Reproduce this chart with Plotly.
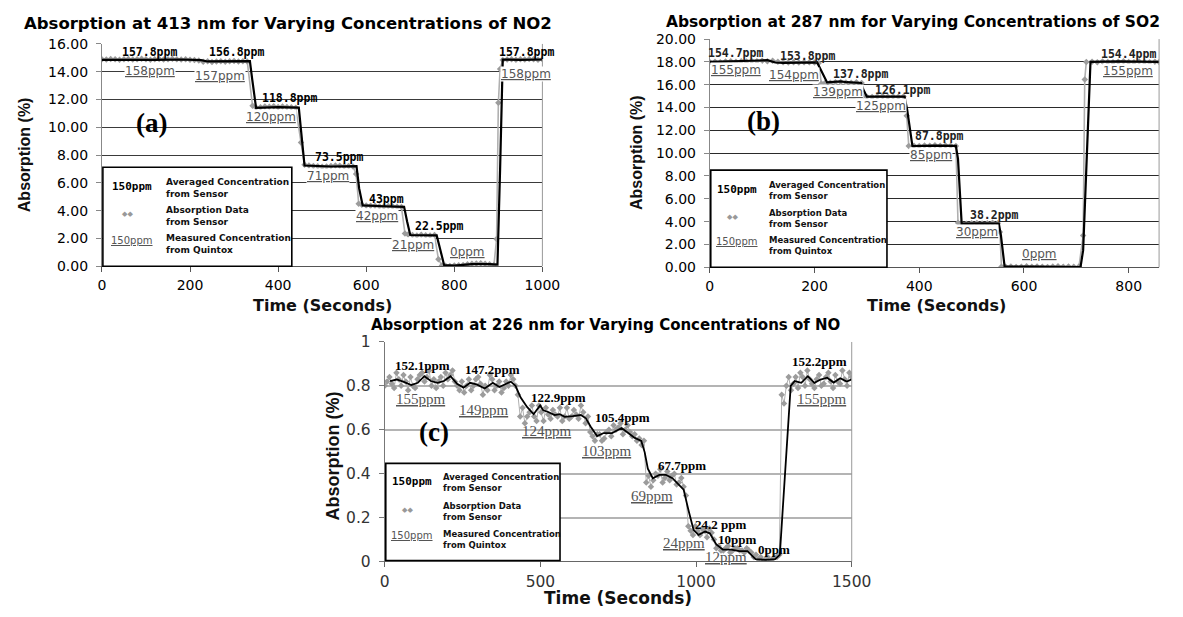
import plotly.graph_objects as go

# ---------------- DATA ----------------
# (a) NO2 at 413 nm : sensor absorption data (grey points)
a_t = [0, 10, 20, 30, 40, 50, 60, 70, 80, 90, 100, 110, 120, 130, 140, 150, 160, 170, 180, 190, 200, 210, 220,
       230, 240, 250, 260, 270, 280, 290, 300, 310, 320, 330,
       342, 350, 360, 370, 380, 390, 400, 410, 420, 430, 440,
       452, 460, 470, 480, 490, 500, 510, 520, 530, 540, 550, 560, 570,
       577, 583, 590, 600, 610, 620, 630, 640, 650, 660, 670, 680,
       688, 695, 705, 715, 725, 735, 745, 755,
       764, 772, 780, 790, 800, 810, 820, 830, 840, 850, 860, 870, 880, 890,
       896, 900, 904, 910, 920, 930, 940, 950, 960, 970, 980, 990, 1000]
a_v = [14.90, 14.88, 14.92, 14.90, 14.86, 14.90, 14.92, 14.88, 14.90, 14.93, 14.90, 14.87, 14.90, 14.92, 14.88,
       14.90, 14.93, 14.90, 14.88, 14.90, 14.86, 14.84, 14.80,
       14.72, 14.75, 14.70, 14.74, 14.76, 14.72, 14.75, 14.78, 14.74, 14.76, 14.73,
       11.55, 11.42, 11.45, 11.50, 11.48, 11.52, 11.47, 11.50, 11.46, 11.44, 11.40,
       8.90, 7.30, 7.26, 7.22, 7.20, 7.16, 7.18, 7.22, 7.25, 7.24, 7.20, 7.22, 7.18,
       6.64, 4.50, 4.42, 4.38, 4.35, 4.36, 4.32, 4.30, 4.33, 4.30, 4.28, 4.26,
       2.35, 2.28, 2.25, 2.22, 2.26, 2.24, 2.22, 2.25,
       0.50, 0.06, 0.04, 0.02, 0.05, 0.08, 0.10, 0.14, 0.18, 0.20, 0.22, 0.18, 0.15, 0.10,
       1.96, 11.76, 14.20, 14.85, 14.88, 14.90, 14.86, 14.90, 14.88, 14.92, 14.90, 14.87, 14.90]
# (a) averaged concentration line (black)
a_avg_t = [0, 60, 120, 180, 225, 240, 336, 341, 350, 400, 447, 452, 460, 520, 578, 584, 592, 640, 686, 693,
           700, 760, 767, 777, 800, 840, 880, 898, 904, 910, 950, 1000]
a_avg_v = [14.85, 14.88, 14.86, 14.88, 14.84, 14.74, 14.76, 13.5, 11.40, 11.46, 11.42, 9.8, 7.25, 7.18, 7.20,
           5.6, 4.38, 4.32, 4.28, 3.2, 2.25, 2.22, 1.3, 0.08, 0.04, 0.15, 0.15, 0.12, 7.0, 14.88, 14.86, 14.88]
a_avg_lbl = ["157.8ppm", "156.8ppm", "118.8ppm", "73.5ppm", "43ppm", "22.5ppm", "157.8ppm"]
a_avg_lt = [109, 306, 426, 539, 647, 766, 963]
a_avg_lv = [15.42, 15.42, 12.11, 7.87, 4.84, 2.91, 15.42]
a_meas_lbl = ["158ppm", "157ppm", "120ppm", "71ppm", "42ppm", "21ppm", "0ppm", "158ppm"]
a_meas_lt = [110, 269, 384, 513, 625, 706, 831, 963]
a_meas_lv = [14.05, 13.70, 10.71, 6.52, 3.61, 1.51, 1.00, 13.86]

# (b) SO2 at 287 nm
b_t = [0, 10, 20, 30, 40, 50, 60, 70, 80, 90, 100, 110, 120, 130, 140, 150, 160, 170, 180, 190, 200,
       208, 213, 220, 230, 240, 250, 260, 270, 280, 290, 293,
       300, 310, 320, 330, 340, 350, 360, 370, 376, 380,
       390, 400, 410, 420, 430, 440, 450, 460, 470, 474,
       480, 490, 500, 510, 520, 530, 540, 550, 554, 557,
       565, 575, 585, 595, 605, 615, 625, 635, 645, 655, 665, 675, 685, 695, 705,
       713, 716, 719, 730, 740, 750, 760, 770, 780, 790, 800, 810, 820, 830, 840, 850, 858]
b_v = [18.00, 18.02, 17.98, 18.03, 18.05, 18.02, 18.06, 18.04, 18.08, 18.05, 18.10, 18.06, 18.10, 18.02, 17.96,
       17.95, 17.98, 17.94, 17.96, 17.98, 17.95,
       17.90, 16.10, 16.15, 16.18, 16.22, 16.25, 16.20, 16.18, 16.22, 16.15, 14.98,
       14.95, 14.92, 14.96, 14.98, 14.94, 14.97, 14.95, 14.96, 13.28, 10.62,
       10.66, 10.62, 10.68, 10.65, 10.70, 10.64, 10.68, 10.66, 10.62, 3.90,
       3.85, 3.82, 3.86, 3.88, 3.84, 3.86, 3.90, 3.85, 3.10, 0.05,
       0.04, 0.06, 0.03, 0.05, 0.08, 0.04, 0.06, 0.05, 0.03, 0.06, 0.08, 0.05, 0.07, 0.04, 0.06,
       2.78, 16.45, 18.00, 18.02, 17.98, 18.04, 18.00, 17.96, 18.02, 18.05, 18.00, 17.97, 18.03, 18.00, 17.98,
       18.02, 18.00]
b_avg_t = [0, 40, 80, 110, 125, 140, 205, 211, 224, 250, 262, 289, 293, 300, 372, 377, 387, 430, 470, 474,
           481, 520, 552, 556, 563, 620, 708, 713, 727, 780, 858]
b_avg_v = [18.00, 18.08, 18.10, 18.15, 17.95, 17.92, 17.95, 17.4, 16.20, 16.30, 16.22, 16.15, 15.6, 14.95,
           14.95, 13.8, 10.62, 10.66, 10.64, 9.5, 3.82, 3.85, 3.82, 2.8, 0.05, 0.05, 0.02, 1.5, 18.00, 18.05, 18.00]
b_avg_lbl = ["154.7ppm", "153.8ppm", "137.8ppm", "126.1ppm", "87.8ppm", "38.2ppm", "154.4ppm"]
b_avg_lt = [50, 186, 287, 368, 439, 543, 799]
b_avg_lv = [18.78, 18.55, 16.96, 15.55, 11.49, 4.62, 18.72]
b_meas_lbl = ["155ppm", "154ppm", "139ppm", "125ppm", "85ppm", "30ppm", "0ppm", "155ppm"]
b_meas_lt = [50, 160, 244, 327, 422, 511, 630, 798]
b_meas_lv = [17.30, 16.82, 15.40, 14.13, 9.87, 3.12, 1.13, 17.19]

# (c) NO at 226 nm  (two interleaved sample grids of the grey sensor data)
c_t = [0, 15, 30, 45, 60, 75, 90, 105, 120, 135, 150, 165, 180, 195, 210, 225, 240, 255, 270, 285,
       300, 315, 330, 345, 360, 375, 390, 405, 420, 435, 450, 465, 480, 495, 510, 525, 540, 555, 570, 585,
       600, 615, 630, 645, 660, 675, 690, 705, 720, 735, 750, 765, 780, 795, 810, 825, 840, 855, 870, 885,
       900, 915, 930, 945, 960, 975, 990, 1005, 1020, 1035, 1050, 1065, 1080, 1095, 1110, 1125, 1140, 1155,
       1170, 1185, 1200, 1215, 1230, 1245, 1260, 1275, 1290, 1305, 1320, 1335, 1350, 1365, 1380, 1395,
       1410, 1425, 1440, 1455, 1470, 1485, 1500]
c_v = [0.80, 0.84, 0.79, 0.83, 0.85, 0.78, 0.80, 0.83, 0.86, 0.84, 0.80, 0.79, 0.84, 0.86, 0.85, 0.82, 0.78,
       0.77, 0.83, 0.80, 0.84, 0.76, 0.78, 0.83, 0.80, 0.77, 0.82, 0.85, 0.80, 0.66, 0.63, 0.68, 0.66, 0.71,
       0.64, 0.67, 0.69, 0.66, 0.64, 0.70, 0.66, 0.67, 0.71, 0.63, 0.59, 0.55, 0.58, 0.56, 0.60, 0.62, 0.61,
       0.58, 0.62, 0.57, 0.55, 0.53, 0.36, 0.34, 0.40, 0.42, 0.38, 0.37, 0.40, 0.36, 0.34, 0.16, 0.12, 0.14,
       0.15, 0.11, 0.13, 0.06, 0.05, 0.06, 0.04, 0.06, 0.05, 0.04, 0.05, 0.02, 0.01, 0.00, 0.02, 0.01, 0.02,
       0.76, 0.80, 0.78, 0.84, 0.86, 0.80, 0.83, 0.79, 0.85, 0.81, 0.86, 0.79, 0.82, 0.87, 0.80, 0.84]
c_t_mid = [7.5, 22.5, 37.5, 52.5, 67.5, 82.5, 97.5, 112.5, 127.5, 142.5,
           157.5, 172.5, 187.5, 202.5, 217.5, 232.5, 247.5, 262.5, 277.5, 292.5,
           307.5, 322.5, 337.5, 352.5, 367.5, 382.5, 397.5, 412.5, 427.5, 442.5,
           457.5, 472.5, 487.5, 502.5, 517.5, 532.5, 547.5, 562.5, 577.5, 592.5,
           607.5, 622.5, 637.5, 652.5, 667.5, 682.5, 697.5, 712.5, 727.5, 742.5,
           757.5, 772.5, 787.5, 802.5, 817.5, 832.5, 847.5, 862.5, 877.5, 892.5,
           907.5, 922.5, 937.5, 952.5, 967.5, 982.5, 997.5, 1012.5, 1027.5, 1042.5,
           1057.5, 1072.5, 1087.5, 1102.5, 1117.5, 1132.5, 1147.5, 1162.5, 1177.5, 1192.5,
           1207.5, 1222.5, 1237.5, 1252.5, 1267.5, 1282.5, 1297.5, 1312.5, 1327.5, 1342.5,
           1357.5, 1372.5, 1387.5, 1402.5, 1417.5, 1432.5, 1447.5, 1462.5, 1477.5, 1492.5]
c_v_mid = [0.82, 0.81, 0.86, 0.80, 0.82, 0.84, 0.79, 0.85, 0.82, 0.87,
           0.83, 0.82, 0.80, 0.83, 0.87, 0.80, 0.82, 0.80, 0.78, 0.83,
           0.81, 0.80, 0.85, 0.78, 0.82, 0.79, 0.80, 0.83, 0.76, 0.70,
           0.66, 0.71, 0.64, 0.68, 0.70, 0.65, 0.67, 0.70, 0.66, 0.65,
           0.69, 0.65, 0.68, 0.66, 0.57, 0.58, 0.55, 0.59, 0.57, 0.60,
           0.63, 0.60, 0.59, 0.58, 0.56, 0.55, 0.39, 0.37, 0.39, 0.36,
           0.41, 0.39, 0.35, 0.38, 0.30, 0.14, 0.16, 0.12, 0.14, 0.15,
           0.10, 0.07, 0.05, 0.07, 0.05, 0.06, 0.05, 0.06, 0.04, 0.03,
           0.02, 0.01, 0.00, 0.02, 0.03, 0.72, 0.84, 0.81, 0.79, 0.84,
           0.87, 0.81, 0.83, 0.80, 0.84, 0.82, 0.85, 0.81, 0.83, 0.86]
c_avg_t = [17, 38, 59, 85, 106, 127, 148, 169, 190, 211, 232, 253, 274, 295, 321, 347, 368, 389, 405, 420,
           436, 457, 478, 499, 509, 525, 546, 562, 578, 604, 630, 646, 661, 682, 703, 730, 761, 782, 803, 824,
           835, 845, 861, 882, 903, 924, 945, 960, 976, 992, 1008, 1029, 1044, 1065, 1086, 1113, 1139, 1165,
           1191, 1223, 1254, 1269, 1304, 1317, 1338, 1359, 1380, 1400, 1421, 1442, 1463, 1484, 1500]
c_avg_v = [0.822, 0.829, 0.819, 0.804, 0.814, 0.844, 0.822, 0.814, 0.822, 0.844, 0.810, 0.792, 0.814, 0.807,
           0.788, 0.814, 0.795, 0.807, 0.819, 0.800, 0.748, 0.704, 0.671, 0.711, 0.689, 0.681, 0.667, 0.671,
           0.659, 0.662, 0.667, 0.652, 0.615, 0.571, 0.585, 0.585, 0.608, 0.585, 0.563, 0.549, 0.497, 0.423,
           0.379, 0.394, 0.394, 0.379, 0.350, 0.327, 0.231, 0.143, 0.121, 0.136, 0.128, 0.077, 0.054, 0.054,
           0.047, 0.047, 0.010, 0.007, 0.010, 0.030, 0.800, 0.822, 0.814, 0.844, 0.814, 0.829, 0.837, 0.815,
           0.835, 0.820, 0.830]
c_avg_lbl = ["152.1ppm", "147.2ppm", "122.9ppm", "105.4ppm", "67.7ppm", "24.2 ppm", "10ppm", "0ppm", "152.2ppm"]
c_avg_lt = [120, 347, 557, 762, 956, 1078, 1133, 1250, 1395]
c_avg_lv = [0.895, 0.873, 0.745, 0.657, 0.438, 0.170, 0.102, 0.052, 0.910]
c_meas_lbl = ["155ppm", "149ppm", "124ppm", "103ppm", "69ppm", "24ppm", "12ppm", "155ppm"]
c_meas_lt = [115, 319, 520, 714, 858, 961, 1097, 1403]
c_meas_lv = [0.740, 0.689, 0.593, 0.504, 0.298, 0.084, 0.018, 0.740]

titles = ["Absorption at 413 nm for Varying Concentrations of NO2",
          "Absorption at 287 nm for Varying Concentrations of SO2",
          "Absorption at 226 nm for Varying Concentrations of NO"]
panel_tags = ["(a)", "(b)", "(c)"]
legend_lines = ["Averaged Concentration<br>from Sensor",
                "Absorption Data<br>from Sensor",
                "Measured Concentration<br>from Quintox"]

# ---------------- LAYOUT HELPERS ----------------
W, H = 1183, 617
SANS = "DejaVu Sans"
ARIAL = "Liberation Sans"
MONO = "DejaVu Sans Mono"
SERIF = "Liberation Serif"


def fx(p):
    return p / W


def fy(p):
    return 1 - p / H


# merge the two interleaved grey-sample grids of panel (c) in time order
c_pairs = sorted(zip(c_t + c_t_mid, c_v + c_v_mid))
c_all_t = [p[0] for p in c_pairs]
c_all_v = [p[1] for p in c_pairs]

fig = go.Figure()
GREY_PT = "#9c9c9c"
GREY_LN = "#b0b0b0"

series = [
    ("x", "y", a_t, a_v, a_avg_t, a_avg_v, 5, 1.6, 2.2),
    ("x2", "y2", b_t, b_v, b_avg_t, b_avg_v, 5, 1.6, 2.2),
    ("x3", "y3", c_all_t, c_all_v, c_avg_t, c_avg_v, 5, 1.0, 1.8),
]
for xa, ya, tt, vv, at, av, msize, lw, bw in series:
    fig.add_trace(go.Scatter(x=tt, y=vv, xaxis=xa, yaxis=ya, mode="lines+markers",
                             line=dict(color=GREY_LN, width=lw),
                             marker=dict(symbol="diamond", size=msize, color=GREY_PT),
                             showlegend=False, hoverinfo="skip"))
    fig.add_trace(go.Scatter(x=at, y=av, xaxis=xa, yaxis=ya, mode="lines",
                             line=dict(color="black", width=bw),
                             showlegend=False, hoverinfo="skip"))

ann = []
shapes = []


def pa(cx, cy, text, font, **kw):
    """annotation placed at a pixel position of the page"""
    d = dict(x=fx(cx), y=fy(cy), xref="paper", yref="paper", text=text, showarrow=False,
             xanchor="center", yanchor="middle", font=font)
    d.update(kw)
    ann.append(d)


# data labels
for xr, yr, lbl, lt, lv, col in [("x", "y", a_avg_lbl, a_avg_lt, a_avg_lv, "black"),
                                 ("x2", "y2", b_avg_lbl, b_avg_lt, b_avg_lv, "#222222")]:
    for s, t, v in zip(lbl, lt, lv):
        ann.append(dict(x=t, y=v, xref=xr, yref=yr, text=s, showarrow=False, xanchor="center",
                        yanchor="middle", font=dict(family=MONO, size=11.5, color=col, weight="bold")))
for xr, yr, lbl, lt, lv in [("x", "y", a_meas_lbl, a_meas_lt, a_meas_lv),
                            ("x2", "y2", b_meas_lbl, b_meas_lt, b_meas_lv)]:
    for s, t, v in zip(lbl, lt, lv):
        ann.append(dict(x=t, y=v, xref=xr, yref=yr, text="<u>" + s + "</u>", showarrow=False,
                        xanchor="center", yanchor="middle", bgcolor="white", borderpad=0,
                        font=dict(family=SANS, size=12, color="#555555")))
for s, t, v in zip(c_avg_lbl, c_avg_lt, c_avg_lv):
    ann.append(dict(x=t, y=v, xref="x3", yref="y3", text=s, showarrow=False, xanchor="center",
                    yanchor="middle", font=dict(family=SERIF, size=13, color="black", weight="bold")))
for s, t, v in zip(c_meas_lbl, c_meas_lt, c_meas_lv):
    ann.append(dict(x=t, y=v, xref="x3", yref="y3", text="<u>" + s + "</u>", showarrow=False,
                    xanchor="center", yanchor="middle", font=dict(family=SERIF, size=15, color="#555555")))

# titles
for txt, cx, cy, sz in [(titles[0], 289, 15, 16.5), (titles[1], 928, 13, 15.5), (titles[2], 613, 326, 15)]:
    pa(cx, cy, txt, dict(family=SANS, size=sz, color="black", weight="bold"))
# axis titles
for cx, cy, sz in [(20, 150, 16), (645, 148, 16), (335, 460, 18)]:
    pa(cx, cy, "Absorption (%)", dict(family=ARIAL, size=sz, color="#111111", weight="bold"), textangle=-90)
for cx, cy, sz in [(324, 305, 16), (952, 305, 16), (626, 607, 17)]:
    pa(cx, cy, "Time (Seconds)", dict(family=SANS, size=sz, color="#111111", weight="bold"))
# panel tags
for tag, cx, cy in zip(panel_tags, [150, 775, 438], [117, 115, 436]):
    pa(cx, cy, tag, dict(family=SERIF, size=27, color="black", weight="bold"))

# legend boxes
legends = [
    # box x0,x1,y0,y1 ; sample centre x ; text left x ; row y centres ; text size
    (100, 293, 163, 265, 130, 162, [184, 213, 242], 9),
    (721, 901, 166, 266, 748, 778, [187, 216, 244], 8.5),
    (389, 567, 468, 568, 416, 445, [488, 518, 546], 8.5),
]
for x0, x1, y0, y1, sx, tx, rows, ts in legends:
    shapes.append(dict(type="rect", xref="paper", yref="paper", x0=fx(x0), x1=fx(x1), y0=fy(y1), y1=fy(y0),
                       line=dict(color="black", width=1.6), fillcolor="white", layer="above"))
    pa(sx, rows[0] - 1, "150ppm", dict(family=MONO, size=11, color="black", weight="bold"))
    pa(sx - 5, rows[1] - 2, "◆◆", dict(family=SANS, size=7, color="#999999"))
    pa(sx, rows[2] - 4, "<u>150ppm</u>", dict(family=SANS, size=10, color="#555555"))
    for i, r in enumerate(rows):
        pa(tx, r, legend_lines[i], dict(family=SANS, size=ts, color="#111111", weight="bold"),
           xanchor="left", align="left")

# right borders of plot areas
for xr, yt, yb, col in [(549, 36, 265, "#999999"), (1179, 31, 266, "#999999"), (865, 343, 569, "#999999")]:
    shapes.append(dict(type="line", xref="paper", yref="paper", x0=fx(xr), x1=fx(xr), y0=fy(yb), y1=fy(yt),
                       line=dict(color=col, width=1)))

tickfont_ab = dict(family=SANS, size=14, color="black")
tickfont_c = dict(family=SANS, size=15.5, color="#333333")
common_x = dict(showline=True, ticks="outside", ticklen=5, showgrid=False, zeroline=False,
                ticklabelstandoff=1)
common_y = dict(showline=True, ticks="outside", ticklen=5, zeroline=False, showgrid=True,
                ticklabelstandoff=5)

fig.update_layout(
    width=W, height=H, margin=dict(l=0, r=0, t=0, b=0), autosize=False,
    paper_bgcolor="white", plot_bgcolor="white", showlegend=False,
    xaxis=dict(domain=[fx(99), fx(549)], anchor="y", range=[0, 1000], dtick=200, tick0=0,
               linecolor="#555555", tickcolor="#555555", tickfont=tickfont_ab, **common_x),
    yaxis=dict(domain=[fy(265), fy(36)], anchor="x", range=[0, 16], dtick=2, tick0=0, tickformat=".2f",
               linecolor="#888888", tickcolor="#888888", gridcolor="#3a3a3a", gridwidth=1,
               tickfont=tickfont_ab, **common_y),
    xaxis2=dict(domain=[fx(720), fx(1179)], anchor="y2", range=[0, 858], dtick=200, tick0=0,
                linecolor="#555555", tickcolor="#555555", tickfont=tickfont_ab, **common_x),
    yaxis2=dict(domain=[fy(266), fy(31)], anchor="x2", range=[0, 20], dtick=2, tick0=0, tickformat=".2f",
                linecolor="#888888", tickcolor="#888888", gridcolor="#2a2a2a", gridwidth=1,
                tickfont=tickfont_ab, **common_y),
    xaxis3=dict(domain=[fx(388), fx(865)], anchor="y3", range=[0, 1500], dtick=500, tick0=0,
                linecolor="#666666", tickcolor="#666666", tickfont=tickfont_c, **common_x),
    yaxis3=dict(domain=[fy(569), fy(343)], anchor="x3", range=[0, 1], dtick=0.2, tick0=0,
                linecolor="#777777", tickcolor="#777777", gridcolor="#b4b4b4", gridwidth=2,
                tickfont=tickfont_c, **common_y),
    annotations=ann,
    shapes=shapes,
)

fig.write_html("out.html", config={"displayModeBar": False},
               post_script="document.body.style.margin='0';document.documentElement.style.overflow='hidden';")
